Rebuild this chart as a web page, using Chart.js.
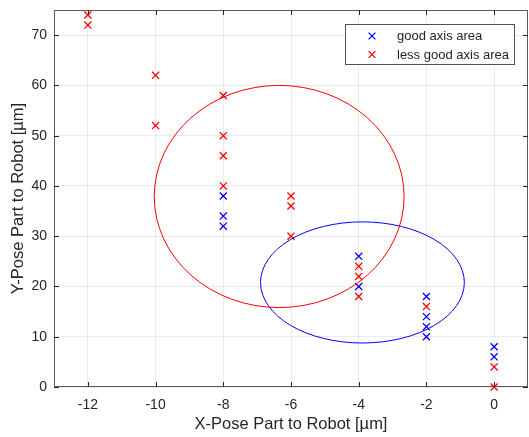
<!DOCTYPE html>
<html>
<head>
<meta charset="utf-8">
<script src="https://cdn.jsdelivr.net/npm/chart.js@4/dist/chart.umd.min.js"></script>
<style>
html,body{margin:0;padding:0;background:#fff;}
canvas{display:block;}
</style>
</head>
<body>
<canvas id="c" width="529" height="437"></canvas>
<script>
// ---- data ----
const goodX = [-8, -8, -8, -4, -4, -2, -2, -2, -2, 0, 0];
const goodY = [38, 34, 32, 26, 20, 18, 14, 12, 10, 8, 6];
const lessX = [-12, -12, -10, -10, -8, -8, -8, -8, -6, -6, -6, -4, -4, -4, -2, 0, 0];
const lessY = [74, 72, 62, 52, 58, 50, 46, 40, 38, 36, 30, 24, 22, 18, 16, 4, 0];
const goodEllipseCenter = [-3.89, 20.8];
const goodEllipseRadii = [3.01, 12.05];
const lessEllipseCenter = [-6.35, 37.9];
const lessEllipseRadii = [3.69, 22.1];
const xTicks = [-12, -10, -8, -6, -4, -2, 0];
const yTicks = [0, 10, 20, 30, 40, 50, 60, 70];
const seriesNames = ['good axis area', 'less good axis area'];
const xTitle = 'X-Pose Part to Robot [µm]';
const yTitle = 'Y-Pose Part to Robot [µm]';

const BLUE = '#0000ff', RED = '#ff0000', TXT = '#262626';
const FONT = 'Liberation Sans, Arial, Helvetica, sans-serif';

const toPts = (xs, ys) => xs.map((x, i) => ({x: x, y: ys[i]}));

const ellipses = [
  {c: goodEllipseCenter, r: goodEllipseRadii, color: BLUE},
  {c: lessEllipseCenter, r: lessEllipseRadii, color: RED}
];

function drawCross(ctx, x, y, h, color) {
  ctx.save();
  ctx.strokeStyle = color;
  ctx.lineWidth = 1.3;
  ctx.beginPath();
  ctx.moveTo(x - h, y - h); ctx.lineTo(x + h, y + h);
  ctx.moveTo(x - h, y + h); ctx.lineTo(x + h, y - h);
  ctx.stroke();
  ctx.restore();
}

function zeroPad(s) {
  s.paddingLeft = 0; s.paddingRight = 0; s.paddingTop = 0; s.paddingBottom = 0;
}

const decor = {
  id: 'decor',
  afterDatasetsDraw(chart) {
    const ctx = chart.ctx, xs = chart.scales.x, ys = chart.scales.y, a = chart.chartArea;
    ctx.save();
    ctx.beginPath();
    ctx.rect(a.left, a.top, a.right - a.left, a.bottom - a.top);
    ctx.clip();
    ellipses.forEach(e => {
      const cx = xs.getPixelForValue(e.c[0]);
      const cy = ys.getPixelForValue(e.c[1]);
      const rx = Math.abs(xs.getPixelForValue(e.c[0] + e.r[0]) - cx);
      const ry = Math.abs(ys.getPixelForValue(e.c[1] + e.r[1]) - cy);
      ctx.beginPath();
      ctx.ellipse(cx, cy, rx, ry, 0, 0, Math.PI * 2);
      ctx.strokeStyle = e.color;
      ctx.lineWidth = 1;
      ctx.stroke();
    });
    ctx.restore();
  },
  afterDraw(chart) {
    const ctx = chart.ctx, xs = chart.scales.x, ys = chart.scales.y, a = chart.chartArea;
    ctx.save();
    ctx.strokeStyle = 'rgba(38,38,38,0.75)';
    ctx.lineWidth = 1;
    ctx.strokeRect(a.left + 0.5, a.top + 0.5, a.right - a.left - 1, a.bottom - a.top - 1);
    const tl = 5;
    ctx.strokeStyle = TXT;
    ctx.beginPath();
    xTicks.forEach(v => {
      const p = Math.round(xs.getPixelForValue(v)) + 0.5;
      ctx.moveTo(p, a.bottom); ctx.lineTo(p, a.bottom - tl);
      ctx.moveTo(p, a.top); ctx.lineTo(p, a.top + tl);
    });
    yTicks.forEach(v => {
      const p = Math.round(ys.getPixelForValue(v)) + 0.5;
      ctx.moveTo(a.left, p); ctx.lineTo(a.left + tl, p);
      ctx.moveTo(a.right, p); ctx.lineTo(a.right - tl, p);
    });
    ctx.stroke();
    // legend
    const bx = 345.5, by = 24.5, bw = 169, bh = 40;
    ctx.fillStyle = '#fff';
    ctx.fillRect(bx, by, bw, bh);
    ctx.strokeStyle = 'rgba(38,38,38,0.8)';
    ctx.lineWidth = 1;
    ctx.strokeRect(bx, by, bw, bh);
    const rows = [36, 54.5];
    const cols = [BLUE, RED];
    ctx.font = '13px ' + FONT;
    ctx.textBaseline = 'middle';
    ctx.textAlign = 'left';
    seriesNames.forEach((n, i) => {
      drawCross(ctx, 372, rows[i], 3.4, cols[i]);
      ctx.fillStyle = TXT;
      ctx.fillText(n, 397, rows[i] + 0.5);
    });
    ctx.restore();
  }
};

new Chart(document.getElementById('c'), {
  type: 'scatter',
  data: {
    datasets: [
      {label: seriesNames[0], data: toPts(goodX, goodY), pointStyle: 'crossRot', radius: 5, borderColor: BLUE, backgroundColor: BLUE, borderWidth: 1.3, clip: false},
      {label: seriesNames[1], data: toPts(lessX, lessY), pointStyle: 'crossRot', radius: 5, borderColor: RED, backgroundColor: RED, borderWidth: 1.3, clip: false}
    ]
  },
  options: {
    responsive: false,
    animation: false,
    devicePixelRatio: 1,
    layout: {autoPadding: false, padding: {top: 10, right: 1, left: 0, bottom: 0}},
    plugins: {legend: {display: false}, tooltip: {enabled: false}},
    elements: {point: {hoverRadius: 5}},
    scales: {
      x: {
        type: 'linear', min: -13, max: 1,
        afterBuildTicks: s => { s.ticks = xTicks.map(v => ({value: v})); },
        afterFit: s => { s.height = 50; zeroPad(s); },
        ticks: {font: {size: 14, family: FONT}, color: TXT, padding: 10},
        grid: {color: 'rgba(0,0,0,0.08)', drawTicks: false},
        border: {display: false},
        title: {display: true, text: xTitle, color: TXT, font: {size: 16.5, family: FONT}, padding: {top: 0, bottom: 3}}
      },
      y: {
        type: 'linear', min: 0, max: 75,
        afterBuildTicks: s => { s.ticks = yTicks.map(v => ({value: v})); },
        afterFit: s => { s.width = 54; zeroPad(s); },
        ticks: {font: {size: 14, family: FONT}, color: TXT, padding: 7},
        grid: {color: 'rgba(0,0,0,0.08)', drawTicks: false},
        border: {display: false},
        title: {display: true, text: yTitle, color: TXT, font: {size: 16.5, family: FONT}, padding: {top: 9, bottom: 0}}
      }
    }
  },
  plugins: [decor]
});
</script>
</body>
</html>
